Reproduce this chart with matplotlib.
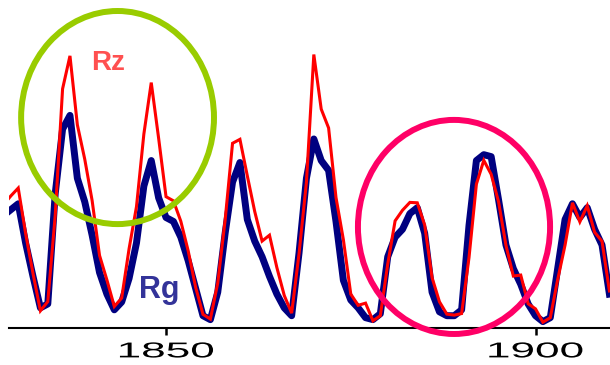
import matplotlib
matplotlib.use("Agg")
import matplotlib.pyplot as plt
import matplotlib.patheffects as pe
from matplotlib.patches import Ellipse
from matplotlib.transforms import Affine2D
import numpy as np


years = np.arange(1828, 1911)

# Zurich (Wolf) sunspot number, annual
rz = [
    62.5, 67.0, 71.0, 47.8, 27.5, 8.5, 13.2, 56.9, 121.5, 138.3,
    103.2, 85.7, 64.6, 36.7, 24.2, 10.7, 15.0, 40.1, 61.5, 98.5,
    124.7, 96.3, 66.6, 64.5, 54.1, 39.0, 20.6, 6.7, 4.3, 22.7,
    54.8, 93.8, 95.8, 77.2, 59.1, 44.0, 47.0, 30.5, 16.3, 7.3,
    37.6, 74.0, 139.0, 111.2, 101.6, 66.2, 44.7, 17.0, 11.3, 12.4,
    3.4, 6.0, 32.3, 54.3, 59.7, 63.7, 63.5, 52.2, 25.4, 13.1,
    6.8, 6.3, 7.1, 35.6, 73.0, 85.1, 78.0, 64.0, 41.8, 26.2,
    26.7, 12.1, 9.5, 2.7, 5.0, 24.4, 42.0, 63.5, 53.8, 62.0,
    48.5, 43.9, 18.6,
]

# group sunspot number
rg = [
    57, 60, 63, 43, 26, 10, 12, 68, 101, 108,
    76, 64, 47, 28, 17, 9, 13, 25, 43, 72,
    85, 66, 56, 54, 46, 34, 20, 6, 4, 18,
    48, 74, 84, 55, 44, 36, 26, 17, 10, 6,
    38, 76, 96, 85, 80, 54, 24, 14, 10, 5,
    4, 7, 36, 46, 50, 58, 61, 48, 18, 8,
    6, 6, 9, 52, 85, 88, 87, 65, 42, 30,
    22, 12, 6, 3, 5, 30, 55, 63, 56, 61,
    50, 42, 17,
]

tick_years = [1850, 1900]


class StretchX(pe.AbstractPathEffect):
    """Widen glyphs horizontally about the text centre (reference uses stretched digits)."""

    def __init__(self, sx):
        super().__init__()
        self.sx = sx

    def draw_path(self, renderer, gc, tpath, affine, rgbFace=None):
        bb = tpath.get_extents(affine)
        cx = 0.5 * (bb.x0 + bb.x1)
        aff = affine + Affine2D().translate(-cx, 0).scale(self.sx, 1.0).translate(cx, 0)
        renderer.draw_path(gc, tpath, aff, rgbFace)


fig = plt.figure(figsize=(6.1, 3.65), dpi=100)
ax = fig.add_axes([9 / 610, 37.5 / 365, 601 / 610, 327.5 / 365])

ax.plot(years, rg, color="#000080", linewidth=5.0, solid_joinstyle="round", zorder=2)
ax.plot(years, rz, color="#ff0000", linewidth=2.2, solid_joinstyle="miter", zorder=3)

ax.set_xlim(1828.75, 1910.08)
ax.set_ylim(0, 166.75)

for side in ("top", "right", "left"):
    ax.spines[side].set_visible(False)
ax.spines["bottom"].set_linewidth(1.5)
ax.set_yticks([])
ax.set_xticks(tick_years)
ax.set_xticklabels([str(y) for y in tick_years], family="Liberation Sans", fontsize=15.5)
ax.tick_params(axis="x", length=5, width=1.8, pad=5, color="black")
for lbl in ax.get_xticklabels():
    lbl.set_path_effects([StretchX(2.05)])

# labels
ax.text(1842.1, 131.0, "Rz", color="#ff5050", fontsize=20, fontweight="bold",
        family="Liberation Sans", ha="center", va="baseline")
ax.text(1849.05, 15.0, "Rg", color="#333399", fontsize=22, fontweight="bold",
        family="Liberation Sans", ha="center", va="baseline")

# highlight rings
ax.add_patch(Ellipse((1843.44, 106.9), 26.1, 108.5, fill=False,
                     edgecolor="#99cc00", linewidth=4.3, clip_on=False, zorder=4))
ax.add_patch(Ellipse((1888.97, 51.2), 26.0, 109.0, fill=False,
                     edgecolor="#ff0066", linewidth=4.3, clip_on=False, zorder=4))

fig.savefig("out.png", dpi=100)
